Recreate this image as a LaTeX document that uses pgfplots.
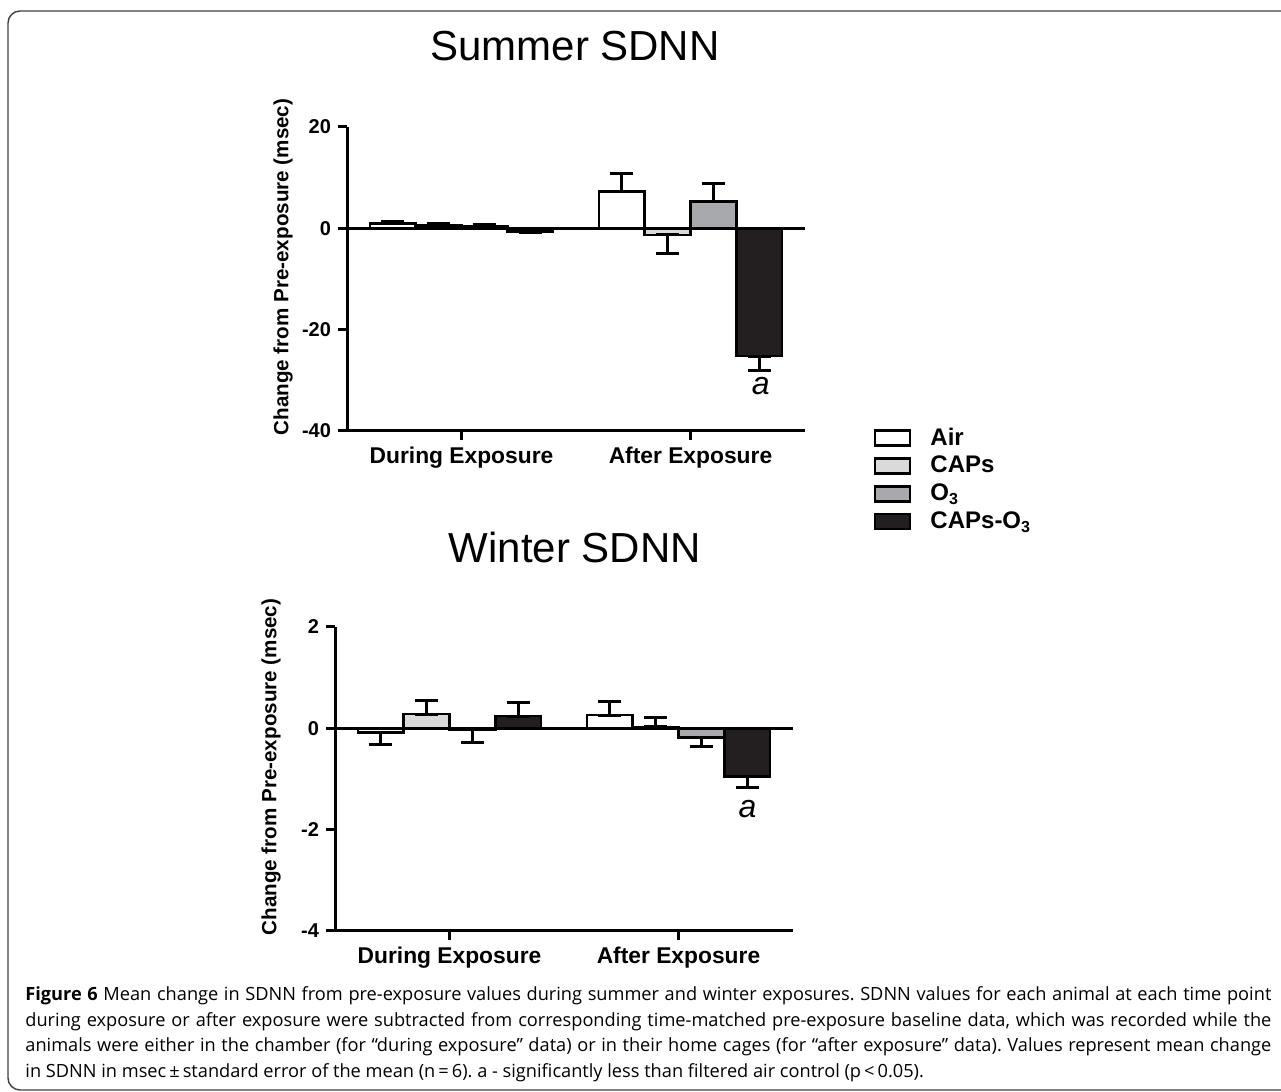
\documentclass[border=0pt]{standalone}
\usepackage{pgfplots}
\pgfplotsset{compat=1.18}
\usepackage{fontspec}
\setmainfont{Liberation Sans}
\newfontfamily\capfont{Open Sans}
\definecolor{capsgray}{HTML}{D9DADB}
\definecolor{ogray}{HTML}{A7A9AC}
\definecolor{nblack}{HTML}{231F20}

\pgfplotsset{
  sdnn/.style={
    width=229pt, height=152pt, scale only axis,
    xmin=-0.5, xmax=1.5,
    axis x line=bottom, axis y line=left,
    axis line style={-, line width=1.5pt},
    every outer x axis line/.append style={-},
    every outer y axis line/.append style={-},
    tick style={line width=1.5pt, black},
    tick align=outside, major tick length=4.5pt,
    xtick={0,1}, xticklabels={During Exposure, After Exposure},
    ticklabel style={font=\bfseries\fontsize{10}{12}\selectfont},
    xticklabel style={font=\bfseries\fontsize{11.4}{13}\selectfont},
    every axis y label/.style={at={(axis description cs:0,0.5)}, xshift=-32pt, yshift=6pt, rotate=90, anchor=center, font=\bfseries\fontsize{10.3}{12}\selectfont},
    clip=false,
  },
  bars/.style={ybar, bar shift=0pt, bar width=0.2, draw=black, line width=1.3pt,
    error bars/y dir=both, error bars/y explicit,
    error bars/error bar style={line width=1.5pt, black},
    error bars/error mark options={rotate=90, mark size=5.75pt, line width=1.5pt, black}},
}

\begin{document}
\begin{tikzpicture}
\path[use as bounding box] (0pt,0pt) rectangle (640.5pt,546pt);
\begin{scope}
\clip (0pt,0pt) rectangle (640.5pt,546pt);
\draw[line width=0.7pt, black!75, rounded corners=6pt] (4pt,1pt) rectangle (700pt,540.5pt);
\end{scope}

\node[font=\fontsize{21}{25}\selectfont] at (287.5pt,523pt) {Summer SDNN};
\node[font=\fontsize{21}{25}\selectfont] at (287.5pt,272.5pt) {Winter SDNN};

% Summer
\begin{axis}[sdnn, at={(173.5pt,330.5pt)}, anchor=south west,
  ymin=-40, ymax=20, ytick={-40,-20,0,20}, yticklabels={-40,-20,0,20},
  ylabel={Change from Pre-exposure (msec)},
  legend style={at={(1.15,0.025)}, anchor=north west, draw=none, fill=none, inner sep=0pt,
    font=\bfseries\fontsize{12}{14}\selectfont, row sep=0pt,
    /tikz/every odd column/.append style={column sep=7.5pt}},
  legend cell align=left,
  legend image code/.code={\draw[#1, line width=1.2pt] (0pt,-3.75pt) rectangle (17.5pt,3.75pt);},
]
\draw[line width=1.5pt] (axis cs:-0.5,0) -- (axis cs:1.5,0);
\addplot[bars, fill=white] coordinates {(-0.3,1.0) += (0,0.3) -= (0,0) (0.7,7.3) += (0,3.5) -= (0,0)};
\addlegendentry{Air}
\addplot[bars, fill=capsgray] coordinates {(-0.1,0.6) += (0,0.3) -= (0,0) (0.9,-1.3) += (0,0) -= (0,3.7)};
\addlegendentry{CAPs}
\addplot[bars, fill=ogray] coordinates {(0.1,0.45) += (0,0.35) -= (0,0) (1.1,5.25) += (0,3.65) -= (0,0)};
\addlegendentry{O\textsubscript{3}}
\addplot[bars, fill=nblack] coordinates {(0.3,-0.65) += (0,0) -= (0,0.25) (1.3,-25.2) += (0,0) -= (0,2.8)};
\addlegendentry{CAPs-O\textsubscript{3}}
\node[font=\itshape\fontsize{16}{18}\selectfont] at (axis cs:1.307,-31.1) {a};
\end{axis}

% Winter
\begin{axis}[sdnn, at={(167.5pt,80.5pt)}, anchor=south west,
  ymin=-4, ymax=2, ytick={-4,-2,0,2}, yticklabels={-4,-2,0,2},
  ylabel={Change from Pre-exposure (msec)},
]
\draw[line width=1.5pt] (axis cs:-0.5,0) -- (axis cs:1.5,0);
\addplot[bars, fill=white] coordinates {(-0.3,-0.08) += (0,0) -= (0,0.24) (0.7,0.26) += (0,0.27) -= (0,0)};
\addplot[bars, fill=capsgray] coordinates {(-0.1,0.28) += (0,0.26) -= (0,0) (0.9,0.03) += (0,0.19) -= (0,0)};
\addplot[bars, fill=ogray] coordinates {(0.1,-0.03) += (0,0) -= (0,0.24) (1.1,-0.18) += (0,0) -= (0,0.17)};
\addplot[bars, fill=nblack] coordinates {(0.3,0.24) += (0,0.27) -= (0,0) (1.3,-0.95) += (0,0) -= (0,0.21)};
\node[font=\itshape\fontsize{16}{18}\selectfont] at (axis cs:1.301,-1.6) {a};
\end{axis}

\node[anchor=base west, inner sep=0pt] at (12.5pt,45.5pt) {\parbox[t]{623pt}{\capfont\fontsize{9.1}{12.75}\selectfont\frenchspacing\sloppy
{\bfseries Figure 6} Mean change in SDNN from pre-exposure values during summer and winter exposures. SDNN values for each animal at each time point\linebreak
during exposure or after exposure were subtracted from corresponding time-matched pre-exposure baseline data, which was recorded while the\linebreak
animals were either in the chamber (for “during exposure” data) or in their home cages (for “after exposure” data). Values represent mean change\linebreak
in SDNN in msec\,±\,standard error of the mean (n\,=\,6). a - significantly less than filtered air control (p\,<\,0.05).}};
\end{tikzpicture}
\end{document}
